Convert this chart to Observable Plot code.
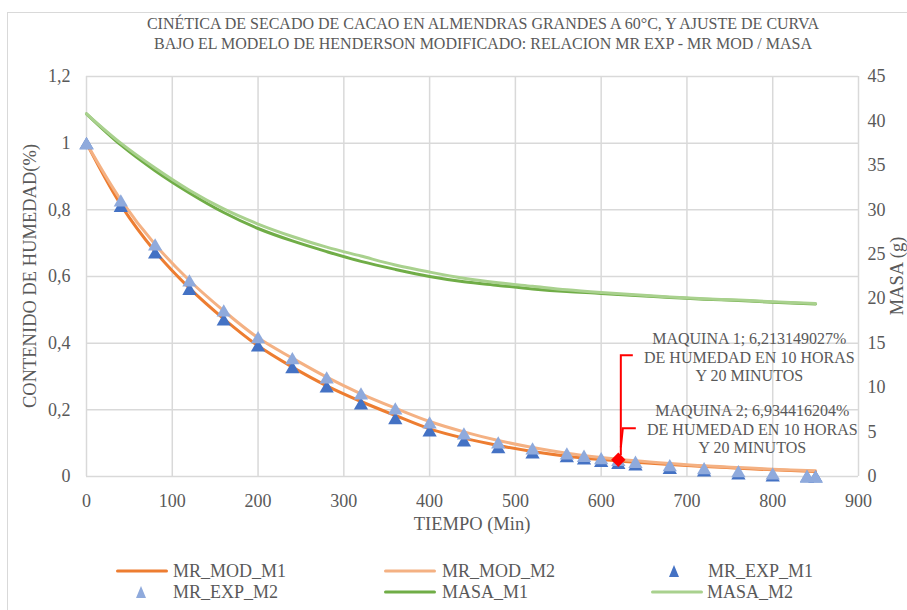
<!DOCTYPE html>
<html><head><meta charset="utf-8">
<script src="https://cdn.jsdelivr.net/npm/d3@7"></script>
<script src="https://cdn.jsdelivr.net/npm/@observablehq/plot@0.6"></script>
<style>
body{margin:0;background:#fff;}
#wrap{position:relative;width:907px;height:610px;overflow:hidden;font-family:"Liberation Serif",Tinos,"Times New Roman","DejaVu Serif","Noto Serif",serif;color:#595959;background:#fff;}
#border{position:absolute;left:7px;top:12px;width:1000px;height:1000px;border-left:1px solid #d9d9d9;border-top:1px solid #d9d9d9;}
.title{position:absolute;left:0;width:966px;text-align:center;font-size:16px;line-height:1;white-space:nowrap;}
.lbl{position:absolute;white-space:nowrap;font-size:18.5px;line-height:1;transform:translate(-50%,-50%);}
.rot{transform:translate(-50%,-50%) rotate(-90deg);}
.leg{position:absolute;font-size:18px;line-height:1;white-space:nowrap;transform:translateY(-50%);}
.sw{position:absolute;height:3px;border-radius:1.5px;transform:translateY(-50%);}
.tri{position:absolute;transform:translate(-50%,-50%);}
#chart{position:absolute;left:0;top:0;}
</style>
</head><body>
<div id="wrap">
  <div id="border"></div>
  <div id="chart"></div>
</div>
<script>
// ---- data ----
const titleLines = ["CINÉTICA DE SECADO DE CACAO EN ALMENDRAS GRANDES A 60°C, Y AJUSTE DE CURVA",
                    "BAJO EL MODELO DE HENDERSON MODIFICADO: RELACION MR EXP - MR MOD / MASA"];
const xTitle = "TIEMPO (Min)";
const yTitle = "CONTENIDO DE HUMEDAD(%)";
const y2Title = "MASA (g)";

const xTicks = [0,100,200,300,400,500,600,700,800,900];
const yTicks = [0,0.2,0.4,0.6,0.8,1,1.2];
const y2Ticks = [0,5,10,15,20,25,30,35,40,45];

// experimental times and values
const tExp = [0,40,80,120,160,200,240,280,320,360,400,440,480,520,560,580,600,620,640,680,720,760,800,840,850];
const mrExpM1 = [1,0.812,0.672,0.563,0.471,0.393,0.328,0.27,0.219,0.175,0.138,0.108,0.088,0.072,0.061,0.054,0.047,0.041,0.036,0.026,0.018,0.009,0.003,0.0,0.0];
const mrExpM2 = [1,0.828,0.696,0.588,0.498,0.418,0.355,0.297,0.249,0.204,0.162,0.129,0.102,0.084,0.069,0.062,0.055,0.05,0.044,0.034,0.025,0.016,0.009,0.002,0.0];

// model / mass times and values
const tMod = [0,40,80,120,160,200,240,280,320,360,400,440,480,520,560,600,640,680,720,760,800,850];
const mrModM1 = [1,0.815,0.675,0.565,0.473,0.392,0.328,0.272,0.225,0.183,0.143,0.115,0.093,0.075,0.061,0.051,0.043,0.036,0.03,0.025,0.02,0.015];
const mrModM2 = [1,0.83,0.696,0.588,0.497,0.416,0.355,0.298,0.248,0.205,0.165,0.134,0.108,0.087,0.07,0.057,0.047,0.039,0.032,0.027,0.022,0.017];
const masaM1 = [40.8,37.3,34.4,31.9,29.7,27.9,26.5,25.3,24.2,23.3,22.5,21.9,21.5,21.1,20.8,20.6,20.35,20.15,19.95,19.8,19.6,19.4];
const masaM2 = [40.8,37.5,34.7,32.2,30.1,28.4,27.0,25.8,24.8,23.8,23.0,22.3,21.8,21.4,21.0,20.7,20.45,20.2,20.0,19.85,19.65,19.45];

// highlighted point and its labels
const hiT = [620];
const hiMR = [0.05];
const hiLabels = ["MAQUINA 1; 6,213149027%\nDE HUMEDAD EN 10 HORAS\nY 20 MINUTOS",
                  "MAQUINA 2; 6,934416204%\nDE HUMEDAD EN 10 HORAS\nY 20 MINUTOS"];

const seriesNames = ["MR_MOD_M1","MR_MOD_M2","MR_EXP_M1","MR_EXP_M2","MASA_M1","MASA_M2"];
const colors = {MR_MOD_M1:"#ED7D31",MR_MOD_M2:"#F4B183",MR_EXP_M1:"#4472C4",MR_EXP_M2:"#8FAADC",MASA_M1:"#70AD47",MASA_M2:"#A9D18E"};

// ---- build ----
const FONT = '"Liberation Serif",Tinos,"Times New Roman","DejaVu Serif","Noto Serif",serif';
const k = 1.2/45; // secondary axis mapping
const modM1 = tMod.map((t,i)=>({t, v: mrModM1[i]}));
const modM2 = tMod.map((t,i)=>({t, v: mrModM2[i]}));
const expM1 = tExp.map((t,i)=>({t, v: mrExpM1[i]}));
const expM2 = tExp.map((t,i)=>({t, v: mrExpM2[i]}));
const mas1 = tMod.map((t,i)=>({t, v: masaM1[i]*k}));
const mas2 = tMod.map((t,i)=>({t, v: masaM2[i]*k}));
const hi = hiT.map((t,i)=>({t, v: hiMR[i]}));

const fmtY = d => String(+d.toFixed(1)).replace(".", ",");
const lineOpt = {x:"t", y:"v", strokeWidth:3, curve:"catmull-rom", strokeLinecap:"round"};

function leaders(index, scales) {
  const x0 = scales.x(hiT[0]), y0 = scales.y(hiMR[0]);
  const g = d3.create("svg:g").attr("fill","none").attr("stroke","#FF0000").attr("stroke-width",2);
  g.append("path").attr("d", `M${x0+3},${y0-4} V${y0-104} H${x0+15}`);
  g.append("path").attr("d", `M${x0+3},${y0-12} L${x0+5},${y0-31} H${x0+18}`);
  return g.node();
}

const chart = Plot.plot({
  width: 907, height: 610,
  marginLeft: 86, marginRight: 49, marginTop: 76, marginBottom: 134,
  x: {domain: [0, 900]},
  y: {domain: [0, 1.2]},
  style: {fontFamily: FONT, fontSize: "18px", color: "#595959", background: "transparent", overflow: "visible"},
  marks: [
    Plot.gridX(xTicks, {stroke: "#d9d9d9", strokeOpacity: 1, strokeWidth: 1.5}),
    Plot.gridY(yTicks, {stroke: "#d9d9d9", strokeOpacity: 1, strokeWidth: 1.5}),
    Plot.axisX(xTicks, {tickSize: 0, tickPadding: 18, label: null, tickFormat: d => String(d), fontFamily: FONT}),
    Plot.axisY(yTicks, {anchor: "left", tickSize: 0, tickPadding: 16, label: null, tickFormat: fmtY, fontFamily: FONT}),
    Plot.axisY(y2Ticks.map(m => m*k), {anchor: "right", tickSize: 0, tickPadding: 9, label: null, tickFormat: d => String(Math.round(d/k)), fontFamily: FONT}),
    Plot.line(modM1, {...lineOpt, stroke: colors.MR_MOD_M1}),
    Plot.line(modM2, {...lineOpt, stroke: colors.MR_MOD_M2}),
    Plot.dot(expM1, {x:"t", y:"v", symbol:"triangle", r:5.3, fill: colors.MR_EXP_M1, dy: 2}),
    Plot.dot(expM2, {x:"t", y:"v", symbol:"triangle", r:5.3, fill: colors.MR_EXP_M2, dy: 2}),
    Plot.line(mas1, {...lineOpt, stroke: colors.MASA_M1}),
    Plot.line(mas2, {...lineOpt, stroke: colors.MASA_M2}),
    Plot.dot(hi, {x:"t", y:"v", symbol:"diamond2", r:6.5, fill:"#FF0000"}),
    leaders,
    Plot.text(hi, {x:"t", y:"v", text: () => hiLabels[0], dx: 131, dy: -103, fontSize: 16, fontFamily: FONT, lineHeight: 1.16, fill: "#595959", textAnchor: "middle"}),
    Plot.text(hi, {x:"t", y:"v", text: () => hiLabels[1], dx: 134, dy: -31, fontSize: 16, fontFamily: FONT, lineHeight: 1.16, fill: "#595959", textAnchor: "middle"})
  ]
});
document.getElementById("chart").appendChild(chart);

const wrap = document.getElementById("wrap");
function addDiv(cls, text, styles) {
  const d = document.createElement("div");
  d.className = cls; d.textContent = text;
  Object.assign(d.style, styles);
  wrap.appendChild(d); return d;
}
addDiv("title", titleLines[0], {top: "16px"});
addDiv("title", titleLines[1], {top: "36px"});
addDiv("lbl", xTitle, {left: "472px", top: "524px"});
addDiv("lbl rot", yTitle, {left: "30px", top: "276px"});
addDiv("lbl rot", y2Title, {left: "897px", top: "276px"});

// legend
const legendItems = [
  {name: seriesNames[0], kind: "line", x: 116, tx: 173, y: 571},
  {name: seriesNames[1], kind: "line", x: 384, tx: 442, y: 571},
  {name: seriesNames[2], kind: "tri",  x: 674, tx: 708, y: 571},
  {name: seriesNames[3], kind: "tri",  x: 141, tx: 173, y: 592},
  {name: seriesNames[4], kind: "line", x: 384, tx: 442, y: 592},
  {name: seriesNames[5], kind: "line", x: 651, tx: 707, y: 592}
];
legendItems.forEach(it => {
  if (it.kind === "line") {
    addDiv("sw", "", {left: it.x + "px", top: it.y + "px", width: "52px", background: colors[it.name]});
  } else {
    const s = document.createElementNS("http://www.w3.org/2000/svg", "svg");
    s.setAttribute("width", "10"); s.setAttribute("height", "12");
    s.setAttribute("class", "tri");
    s.style.left = it.x + "px"; s.style.top = it.y + "px";
    const p = document.createElementNS("http://www.w3.org/2000/svg", "polygon");
    p.setAttribute("points", "5,0 10,12 0,12");
    p.setAttribute("fill", colors[it.name]);
    s.appendChild(p);
    wrap.appendChild(s);
  }
  addDiv("leg", it.name, {left: it.tx + "px", top: it.y + "px"});
});
</script>
</body></html>
